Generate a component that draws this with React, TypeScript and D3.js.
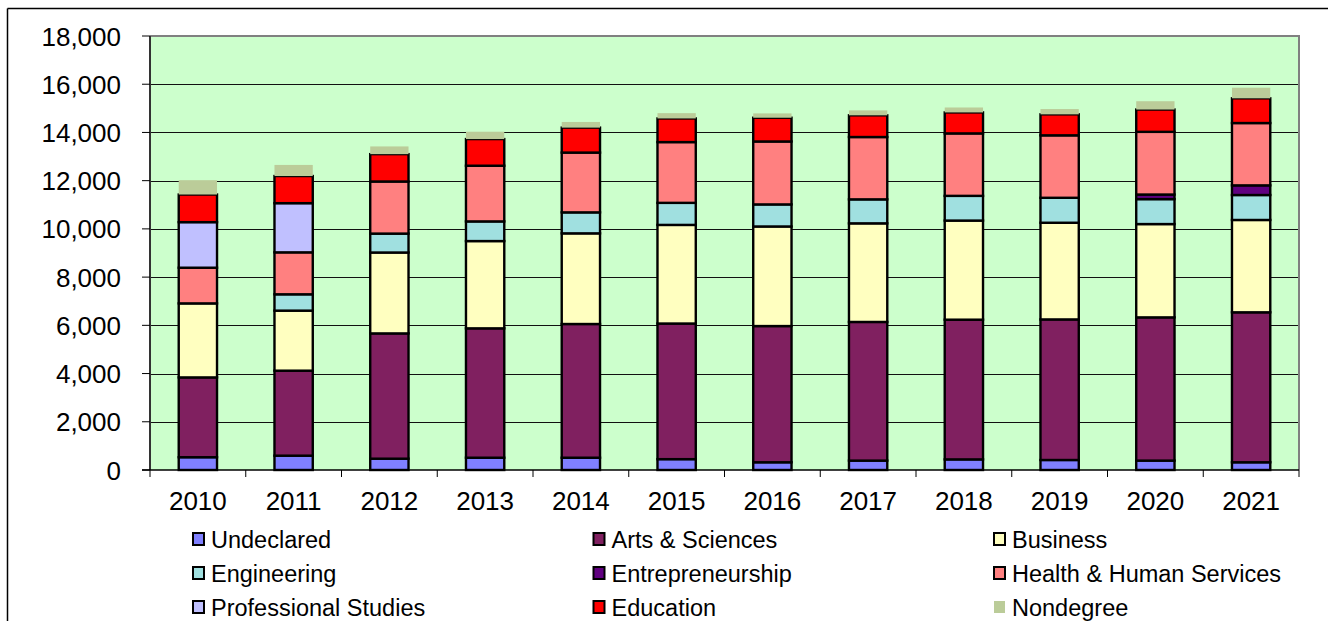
import { useEffect, useRef } from "react";
import * as d3 from "d3";

const years = ["2010", "2011", "2012", "2013", "2014", "2015", "2016", "2017", "2018", "2019", "2020", "2021"];

const seriesNames = [
  "Undeclared",
  "Arts & Sciences",
  "Business",
  "Engineering",
  "Entrepreneurship",
  "Health & Human Services",
  "Professional Studies",
  "Education",
  "Nondegree",
];

const undeclared = [530, 595, 470, 510, 510, 450, 320, 390, 440, 415, 390, 320];
const artsSciences = [3310, 3525, 5195, 5365, 5545, 5625, 5650, 5750, 5795, 5830, 5940, 6220];
const business = [3070, 2490, 3355, 3620, 3760, 4090, 4130, 4090, 4110, 4010, 3870, 3830];
const engineering = [0, 677, 785, 815, 870, 915, 915, 995, 1025, 1035, 1035, 1035];
const entrepreneurship = [0, 0, 0, 0, 0, 0, 0, 0, 0, 0, 190, 400];
const health = [1480, 1740, 2160, 2310, 2480, 2520, 2610, 2585, 2590, 2590, 2600, 2585];
const professional = [1890, 2040, 0, 0, 0, 0, 0, 0, 0, 0, 0, 0];
const education = [1145, 1125, 1135, 1105, 1035, 980, 985, 900, 870, 870, 925, 1025];
const nondegree = [595, 460, 320, 305, 235, 220, 180, 205, 205, 220, 345, 440];

const yTicks = [0, 2000, 4000, 6000, 8000, 10000, 12000, 14000, 16000, 18000];

const colors = ["#8080FF", "#802060", "#FFFFC0", "#A0E0E0", "#600080", "#FF8080", "#C0C0FF", "#FF0000", "#BBCC99"];

const seriesValues = [undeclared, artsSciences, business, engineering, entrepreneurship, health, professional, education, nondegree];

export default function App() {
  const ref = useRef<SVGSVGElement>(null);

  useEffect(() => {
    if (!ref.current) return;
    const svg = d3.select(ref.current);
    svg.selectAll("*").remove();

    const W = 1328, H = 621;
    const left = 150, right = 1299, top = 36, bottom = 470;
    const font = "'Liberation Sans', Arial, sans-serif";

    // outer chart frame (only top and left edges visible)
    svg.append("line").attr("x1", 7.5).attr("x2", 7.5).attr("y1", 8.5).attr("y2", H)
      .attr("stroke", "#000").attr("stroke-width", 1.5);
    svg.append("line").attr("x1", 7.5).attr("x2", W).attr("y1", 8.5).attr("y2", 8.5)
      .attr("stroke", "#000").attr("stroke-width", 1.5);

    const rows = years.map((yr, i) => {
      const r: any = { year: yr };
      seriesNames.forEach((s, k) => (r[s] = seriesValues[k][i]));
      return r;
    });

    const x = d3.scaleBand<string>().domain(years).range([left, right]).paddingInner(0.6).paddingOuter(0.3);
    const y = d3.scaleLinear().domain([0, 18000]).range([bottom, top]);
    const step = (right - left) / years.length;

    // plot background
    svg.append("rect").attr("x", left).attr("y", top).attr("width", right - left).attr("height", bottom - top)
      .attr("fill", "#CCFFCC");

    // gridlines
    svg.append("g").selectAll("line").data(yTicks.filter((t) => t > 0 && t < 18000)).join("line")
      .attr("x1", left).attr("x2", right)
      .attr("y1", (d) => Math.round(y(d)) + 0.5).attr("y2", (d) => Math.round(y(d)) + 0.5)
      .attr("stroke", "#111").attr("stroke-width", 1.2);

    // plot border top/right (gray)
    svg.append("path")
      .attr("d", `M${left},${top}H${right}V${bottom}`)
      .attr("fill", "none").attr("stroke", "#808080").attr("stroke-width", 2);

    // stacked bars
    const stack = d3.stack<any>().keys(seriesNames)(rows);
    const layers = svg.append("g").selectAll("g").data(stack).join("g")
      .attr("fill", (_d, i) => colors[i]);
    layers.selectAll("rect")
      .data((d: any) => d.filter((p: any) => p[1] - p[0] > 0).map((p: any) => ({ p, key: d.key })))
      .join("rect")
      .attr("x", (d: any) => x(d.p.data.year)!)
      .attr("width", x.bandwidth())
      .attr("y", (d: any) => y(d.p[1]))
      .attr("height", (d: any) => y(d.p[0]) - y(d.p[1]))
      .attr("stroke", (d: any) => (d.key === "Nondegree" ? "none" : "#000"))
      .attr("stroke-width", 2.4);

    // y axis
    svg.append("line").attr("x1", left).attr("x2", left).attr("y1", top).attr("y2", bottom)
      .attr("stroke", "#333").attr("stroke-width", 2);
    const yg = svg.append("g");
    yg.selectAll("line").data(yTicks).join("line")
      .attr("x1", left - 8).attr("x2", left)
      .attr("y1", (d) => y(d)).attr("y2", (d) => y(d))
      .attr("stroke", "#000").attr("stroke-width", 1);
    yg.selectAll("text").data(yTicks).join("text")
      .attr("x", 121).attr("y", (d) => y(d) + 9.5)
      .attr("text-anchor", "end")
      .attr("font-family", font).attr("font-size", 26).attr("fill", "#000")
      .text((d) => d3.format(",")(d));

    // x axis
    svg.append("line").attr("x1", left - 8).attr("x2", right).attr("y1", bottom).attr("y2", bottom)
      .attr("stroke", "#000").attr("stroke-width", 1.5);
    const xg = svg.append("g");
    xg.selectAll("line").data(d3.range(years.length + 1)).join("line")
      .attr("x1", (i) => left + i * step).attr("x2", (i) => left + i * step)
      .attr("y1", bottom).attr("y2", bottom + 7)
      .attr("stroke", "#000").attr("stroke-width", 1);
    xg.selectAll("text").data(years).join("text")
      .attr("x", (d) => x(d)! + x.bandwidth() / 2).attr("y", 510)
      .attr("text-anchor", "middle")
      .attr("font-family", font).attr("font-size", 26).attr("fill", "#000")
      .text((d) => d);

    // legend
    const legend = svg.append("g");
    seriesNames.forEach((s, i) => {
      const col = i % 3, row = Math.floor(i / 3);
      const lx = 193 + col * 400.5;
      const ly = 539 + row * 34;
      legend.append("rect")
        .attr("x", lx).attr("y", ly - 6).attr("width", 11).attr("height", 12)
        .attr("fill", colors[i])
        .attr("stroke", s === "Nondegree" ? "none" : "#000").attr("stroke-width", 2);
      legend.append("text")
        .attr("x", lx + 18).attr("y", ly + 8.5)
        .attr("font-family", font).attr("font-size", 23.5).attr("fill", "#000")
        .text(s);
    });
  }, []);

  return (
    <svg ref={ref} width={1328} height={621}
      style={{ position: "absolute", left: 0, top: 0, background: "#fff" }} />
  );
}
